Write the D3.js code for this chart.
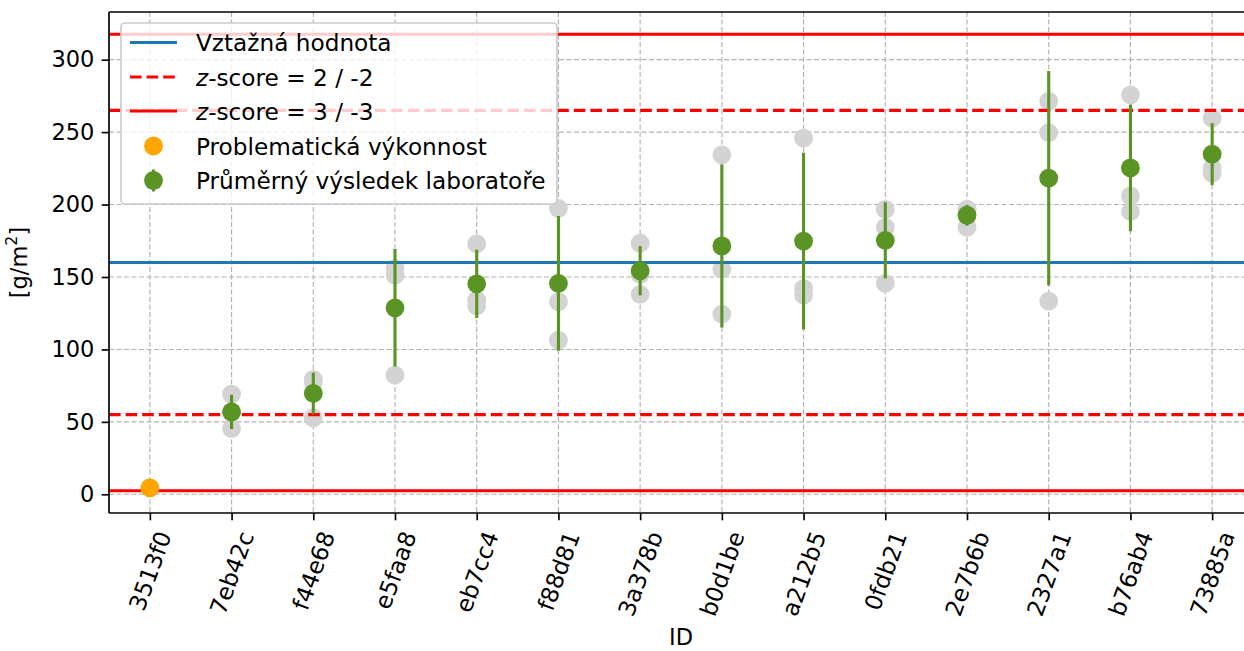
<!DOCTYPE html>
<html>
<head>
<meta charset="utf-8">
<script src="https://cdn.jsdelivr.net/npm/d3@7"></script>
<style>
  html, body { margin: 0; padding: 0; background: #fff; }
  svg { display: block; font-family: "DejaVu Sans", sans-serif; }
</style>
</head>
<body>
<svg id="chart" width="1244" height="651"></svg>
<script>
// ---- data ----
const ids = ["3513f0","7eb42c","f44e68","e5faa8","eb7cc4","f88d81","3a378b","b0d1be","a212b5","0fdb21","2e7b6b","2327a1","b76ab4","73885a"];
const means = [4.4, 56.9, 69.6, 128.7, 145.3, 145.6, 154.3, 171.4, 174.8, 175.3, 192.6, 218.2, 225.3, 234.8];
const sds = [0, 11.85, 14.4, 40.6, 23.6, 46.5, 17.0, 56.3, 61.0, 26.3, 7.2, 74.0, 43.7, 21.4];
const rep1 = [null, 69.1, 79.3, 156.0, 172.8, 197.4, 173.3, 234.3, 245.8, 196.7, 196.7, 271.4, 275.7, 259.6];
const rep2 = [null, 56.2, 77.4, 151.3, 134.0, 132.9, 151.6, 155.3, 142.2, 184.3, 196.7, 249.7, 205.9, 225.1];
const rep3 = [null, 45.4, 52.7, 82.2, 130.1, 106.4, 138.0, 124.4, 137.5, 145.6, 184.3, 133.4, 195.1, 221.6];
const problematic = ["3513f0"];
const refValue = 160;
const sigma = 52.5;
const yTicks = [0, 50, 100, 150, 200, 250, 300];
const legendLabels = ["Vztažná hodnota", "z-score = 2 / -2", "z-score = 3 / -3", "Problematická výkonnost", "Průměrný výsledek laboratoře"];

// ---- layout ----
const L = 109, T = 12, B = 513, R = 1253;
const FS = 22.5;     // tick labels
const FSL = 23.2;    // legend / x labels
const svg = d3.select("#chart");

const x = d3.scalePoint().domain(ids).range([L, R]).padding(0.5);
const y = d3.scaleLinear().domain([-12.9, 332.9]).range([B, T]);

const green = "#5a9424", gray = "#d3d3d3", orange = "#ffa500", red = "#ff0000", blue = "#1f77b4";

// grid
const grid = svg.append("g");
grid.selectAll(".gx").data(ids).join("line")
  .attr("x1", d => x(d)).attr("x2", d => x(d)).attr("y1", T).attr("y2", B)
  .attr("stroke", "#b0b0b0").attr("stroke-width", 1.1).attr("stroke-dasharray", "5,2.5");
grid.selectAll(".gy").data(yTicks).join("line")
  .attr("x1", L).attr("x2", R).attr("y1", d => y(d)).attr("y2", d => y(d))
  .attr("stroke", "#b0b0b0").attr("stroke-width", 1.1).attr("stroke-dasharray", "5,2.5");

const plot = svg.append("g");
plot.append("clipPath").attr("id", "clip").append("rect").attr("x", L).attr("y", T).attr("width", R - L).attr("height", B - T);
const pg = plot.append("g").attr("clip-path", "url(#clip)");

// replicate points
const reps = [];
ids.forEach((id, i) => {
  [rep1[i], rep2[i], rep3[i]].forEach(v => { if (v !== null) reps.push({id, v}); });
});
pg.selectAll(".rep").data(reps).join("circle")
  .attr("cx", d => x(d.id)).attr("cy", d => y(d.v)).attr("r", 9.4).attr("fill", gray);

// reference lines
pg.append("line").attr("x1", L).attr("x2", R).attr("y1", y(refValue)).attr("y2", y(refValue))
  .attr("stroke", blue).attr("stroke-width", 3.1);
[2, -2].forEach(z => pg.append("line").attr("x1", L).attr("x2", R)
  .attr("y1", y(refValue + z * sigma)).attr("y2", y(refValue + z * sigma))
  .attr("stroke", red).attr("stroke-width", 3.1).attr("stroke-dasharray", "11.6,5"));
[3, -3].forEach(z => pg.append("line").attr("x1", L).attr("x2", R)
  .attr("y1", y(refValue + z * sigma)).attr("y2", y(refValue + z * sigma))
  .attr("stroke", red).attr("stroke-width", 3.1));

// error bars + means
const labs = ids.map((id, i) => ({id, m: means[i], s: sds[i], prob: problematic.includes(id)}));
pg.selectAll(".err").data(labs.filter(d => !d.prob)).join("line")
  .attr("x1", d => x(d.id)).attr("x2", d => x(d.id))
  .attr("y1", d => y(d.m - d.s)).attr("y2", d => y(d.m + d.s))
  .attr("stroke", green).attr("stroke-width", 3.1);
pg.selectAll(".mean").data(labs.filter(d => !d.prob)).join("circle")
  .attr("cx", d => x(d.id)).attr("cy", d => y(d.m)).attr("r", 9.4).attr("fill", green);
pg.selectAll(".prob").data(labs.filter(d => d.prob)).join("circle")
  .attr("cx", d => x(d.id)).attr("cy", d => y(d.m)).attr("r", 9.4).attr("fill", orange);

// axes
const yAxis = d3.axisLeft(y).tickValues(yTicks).tickSize(7.3).tickPadding(7.3);
const yg = svg.append("g").attr("transform", `translate(${L},0)`).call(yAxis);
yg.select(".domain").remove();
yg.selectAll(".tick line").attr("stroke", "#000").attr("stroke-width", 1.67);
yg.selectAll(".tick text").attr("font-size", FS).attr("fill", "#000").attr("font-family", "DejaVu Sans");

const xAxis = d3.axisBottom(x).tickSize(7.3).tickFormat("");
const xg = svg.append("g").attr("transform", `translate(0,${B})`).call(xAxis);
xg.select(".domain").remove();
xg.selectAll(".tick line").attr("stroke", "#000").attr("stroke-width", 1.67);

// rotated x labels
const ang = 70 * Math.PI / 180;
const lblG = svg.append("g");
ids.forEach(id => {
  const t = lblG.append("text").text(id).attr("font-size", FSL).attr("text-anchor", "middle")
    .attr("dominant-baseline", "central");
  const w = t.node().getComputedTextLength();
  const h = FSL * 1.0;
  const bh = w * Math.sin(ang) + h * Math.cos(ang);
  const cy = B + 7.3 + 8 + bh / 2;
  t.attr("transform", `translate(${x(id)},${cy}) rotate(-70)`);
});

// spines
svg.append("line").attr("x1", L).attr("x2", L).attr("y1", T).attr("y2", B).attr("stroke", "#000").attr("stroke-width", 1.67);
svg.append("line").attr("x1", L).attr("x2", R).attr("y1", B).attr("y2", B).attr("stroke", "#000").attr("stroke-width", 1.67);
svg.append("line").attr("x1", L).attr("x2", R).attr("y1", T).attr("y2", T).attr("stroke", "#000").attr("stroke-width", 1.67);
svg.append("line").attr("x1", R).attr("x2", R).attr("y1", T).attr("y2", B).attr("stroke", "#000").attr("stroke-width", 1.67);

// axis titles
svg.append("text").attr("x", 681).attr("y", 645).attr("text-anchor", "middle").attr("font-size", FS).text("ID");
const yl = svg.append("text").attr("transform", `translate(27,${(T + B) / 2}) rotate(-90)`)
  .attr("text-anchor", "middle").attr("font-size", FS);
yl.append("tspan").text("[g/m");
yl.append("tspan").text("2").attr("font-size", FS * 0.7).attr("dy", -FS * 0.45);
yl.append("tspan").text("]").attr("dy", FS * 0.45);

// legend
const lg = svg.append("g");
lg.append("rect").attr("x", 121).attr("y", 23).attr("width", 436).attr("height", 181).attr("rx", 4)
  .attr("fill", "#fff").attr("fill-opacity", 0.8).attr("stroke", "#cccccc").attr("stroke-width", 1.67);
const rowsY = [42.5, 77, 111, 146, 180.5];
const hx1 = 130, hx2 = 177, hxm = 153.5, tx = 196;
lg.append("line").attr("x1", hx1).attr("x2", hx2).attr("y1", rowsY[0]).attr("y2", rowsY[0]).attr("stroke", blue).attr("stroke-width", 3.1);
lg.append("line").attr("x1", hx1).attr("x2", hx2).attr("y1", rowsY[1]).attr("y2", rowsY[1]).attr("stroke", red).attr("stroke-width", 3.1).attr("stroke-dasharray", "11.6,5");
lg.append("line").attr("x1", hx1).attr("x2", hx2).attr("y1", rowsY[2]).attr("y2", rowsY[2]).attr("stroke", red).attr("stroke-width", 3.1);
lg.append("circle").attr("cx", hxm).attr("cy", rowsY[3]).attr("r", 9.4).attr("fill", orange);
lg.append("line").attr("x1", hxm).attr("x2", hxm).attr("y1", rowsY[4] - 11).attr("y2", rowsY[4] + 11).attr("stroke", green).attr("stroke-width", 3.1);
lg.append("circle").attr("cx", hxm).attr("cy", rowsY[4]).attr("r", 9.4).attr("fill", green);
legendLabels.forEach((lab, i) => {
  const t = lg.append("text").attr("x", tx).attr("y", rowsY[i]).attr("dominant-baseline", "central").attr("font-size", FSL);
  if (lab.startsWith("z-")) {
    t.append("tspan").text("z").attr("font-style", "italic");
    t.append("tspan").text(lab.slice(1));
  } else {
    t.text(lab);
  }
});
</script>
</body>
</html>
